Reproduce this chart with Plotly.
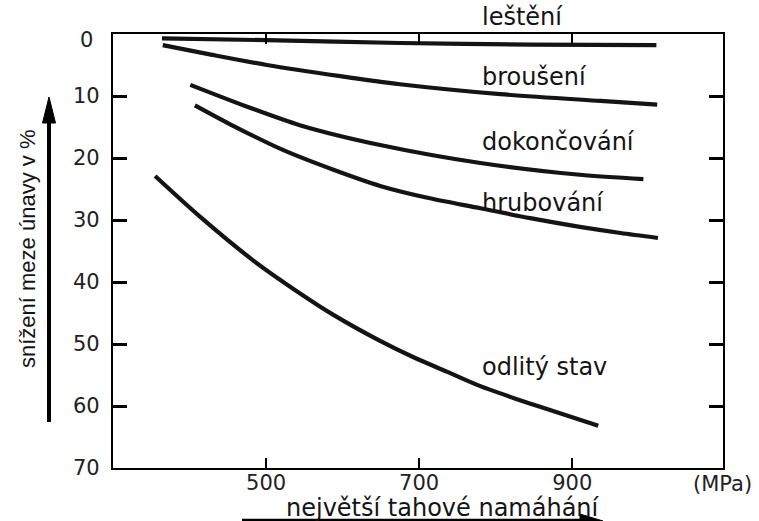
import plotly.graph_objects as go

# Reduction of fatigue limit (%) vs. ultimate tensile strength (MPa) for surface finishes
lesteni_x = [364, 501, 675, 845, 1010]
lesteni_y = [0.7, 1.0, 1.45, 1.7, 1.8]

brouseni_x = [365, 423, 501, 597, 675, 806, 937, 1011]
brouseni_y = [1.8, 3.2, 5.0, 6.8, 8.1, 9.7, 10.8, 11.4]

dokoncovani_x = [401, 479, 544, 649, 780, 910, 993]
dokoncovani_y = [8.2, 11.9, 14.7, 17.9, 20.8, 22.7, 23.4]

hrubovani_x = [407, 457, 522, 588, 649, 714, 780, 845, 910, 963, 1012]
hrubovani_y = [11.5, 14.8, 18.7, 21.9, 24.5, 26.5, 28.1, 29.7, 31.1, 32.1, 32.9]

odlity_x = [355, 414, 483, 544, 588, 649, 692, 737, 780, 823, 867, 934]
odlity_y = [22.9, 29.5, 36.5, 41.8, 45.3, 49.5, 52.1, 54.5, 56.8, 58.7, 60.5, 63.2]

series = [
    ("leštění", lesteni_x, lesteni_y),
    ("broušení", brouseni_x, brouseni_y),
    ("dokončování", dokoncovani_x, dokoncovani_y),
    ("hrubování", hrubovani_x, hrubovani_y),
    ("odlitý stav", odlity_x, odlity_y),
]

# curve captions: (text, y value of caption centre)
captions = [("broušení", 6.9), ("dokončování", 17.4), ("hrubování", 27.3), ("odlitý stav", 53.7)]

x_ticks = [500, 700, 900]
y_ticks = [0, 10, 20, 30, 40, 50, 60, 70]

W, H = 759, 521
L, R, T, B = 113, 36, 34, 53
PW, PH = W - L - R, H - T - B

def px(x):
    return (x - L) / PW

def py(y):
    return (H - B - y) / PH

INK = "#141414"
NUM_FONT = dict(family="DejaVu Sans", size=21, color="#222222")
LBL_FONT = dict(family="DejaVu Sans", size=24, color=INK)

fig = go.Figure()
for name, xs, ys in series:
    fig.add_trace(go.Scatter(
        x=xs, y=ys, mode="lines", name=name,
        line=dict(color=INK, width=4.2, shape="spline", smoothing=0.8),
        showlegend=False, hoverinfo="skip",
    ))

annotations = []
# y tick labels centred left of the axis
for v in y_ticks:
    annotations.append(dict(
        x=px(86), xref="paper", y=v, yref="y", text=str(v), showarrow=False,
        xanchor="center", yanchor="middle", font=NUM_FONT,
        yshift=-6 if v == 0 else 0,
    ))
# curve captions
annotations.append(dict(x=780, xref="x", y=py(17), yref="paper", text="leštění",
                        showarrow=False, xanchor="left", yanchor="middle", font=LBL_FONT))
for text, yv in captions:
    annotations.append(dict(x=780, xref="x", y=yv, yref="y", text=text,
                            showarrow=False, xanchor="left", yanchor="middle", font=LBL_FONT))
# unit and axis titles
annotations.append(dict(x=px(722), xref="paper", y=py(484), yref="paper", text="(MPa)",
                        showarrow=False, xanchor="center", yanchor="middle", font=NUM_FONT))
annotations.append(dict(x=px(443), xref="paper", y=py(508), yref="paper",
                        text="největší tahové namáhání", showarrow=False,
                        xanchor="center", yanchor="middle", font=LBL_FONT))
annotations.append(dict(x=px(27), xref="paper", y=py(249), yref="paper",
                        text="snížení meze únavy v %", textangle=-90, showarrow=False,
                        xanchor="center", yanchor="middle",
                        font=dict(family="Liberation Sans", size=22, color=INK)))

shapes = [
    # vertical arrow beside the y axis
    dict(type="line", xref="paper", yref="paper", x0=px(49), x1=px(49), y0=py(422), y1=py(118),
         line=dict(color="black", width=4)),
    dict(type="path", xref="paper", yref="paper",
         path=f"M {px(49)} {py(97)} L {px(42.5)} {py(123)} L {px(55.5)} {py(123)} Z",
         fillcolor="black", line=dict(color="black", width=1)),
    # horizontal arrow under the x title
    dict(type="line", xref="paper", yref="paper", x0=px(242), x1=px(585), y0=py(520), y1=py(520),
         line=dict(color="black", width=2.5)),
    dict(type="path", xref="paper", yref="paper",
         path=f"M {px(603)} {py(521)} L {px(580)} {py(514)} L {px(580)} {py(528)} Z",
         fillcolor="black", line=dict(color="black", width=1)),
]

fig.update_layout(
    width=W, height=H,
    margin=dict(l=L, r=R, t=T, b=B, pad=0),
    paper_bgcolor="white", plot_bgcolor="white",
    annotations=annotations, shapes=shapes,
    xaxis=dict(
        range=[300, 1097], tickvals=x_ticks, ticks="inside", ticklen=10, tickwidth=2,
        tickcolor="black", showline=True, linecolor="black", linewidth=2, mirror="ticks",
        showgrid=False, zeroline=False, tickfont=NUM_FONT, ticklabelstandoff=-5,
    ),
    yaxis=dict(
        range=[70, 0], tickvals=y_ticks, ticks="inside", ticklen=14, tickwidth=2.5,
        tickcolor="black", showline=True, linecolor="black", linewidth=2, mirror="ticks",
        showgrid=False, zeroline=False, showticklabels=False,
    ),
)

fig.write_html("out.html")
